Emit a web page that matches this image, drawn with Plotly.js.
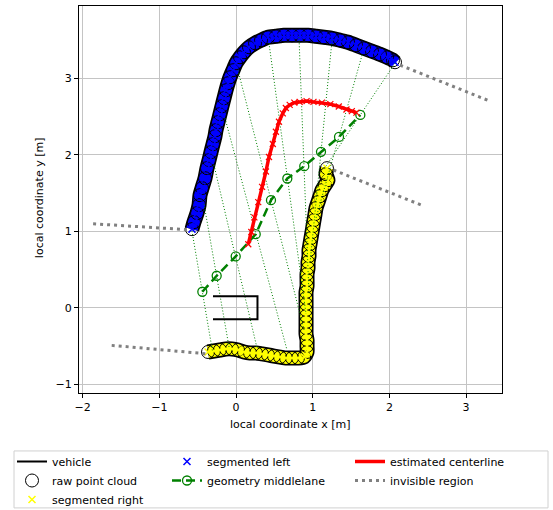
<!DOCTYPE html>
<html>
<head>
<meta charset="utf-8">
<script src="https://cdn.plot.ly/plotly-3.0.1.min.js"></script>
<style>body{margin:0;padding:0;background:#fff;} #plot{width:553px;height:510px;}</style>
</head>
<body>
<div id="plot"></div>
<script>
// ---- data ----
var vehicleX = [-0.30, 0.28, 0.28, -0.30];
var vehicleY = [0.15, 0.15, -0.15, -0.15];

var leftX = [-0.574,-0.548,-0.508,-0.482,-0.469,-0.443,-0.404,-0.378,-0.352,-0.326,-0.300,-0.274,-0.261,-0.235,-0.209,-0.183,-0.156,-0.130,-0.104,-0.078,-0.039,0.000,0.052,0.104,0.169,0.248,0.326,0.417,0.522,0.626,0.730,0.834,0.939,1.043,1.147,1.252,1.356,1.460,1.565,1.669,1.773,1.877,1.969,2.047,2.073];
var leftY = [1.027,1.119,1.236,1.341,1.471,1.563,1.693,1.824,1.928,2.033,2.137,2.242,2.320,2.425,2.529,2.633,2.738,2.842,2.934,3.012,3.104,3.195,3.273,3.338,3.404,3.456,3.495,3.534,3.547,3.560,3.560,3.560,3.560,3.547,3.534,3.521,3.495,3.469,3.430,3.390,3.351,3.312,3.273,3.234,3.208];

var rightX = [-0.365,-0.287,-0.209,-0.130,-0.052,0.026,0.104,0.183,0.261,0.339,0.417,0.495,0.574,0.652,0.730,0.808,0.887,0.926,0.926,0.926,0.913,0.913,0.913,0.913,0.913,0.913,0.913,0.913,0.926,0.926,0.926,0.939,0.939,0.952,0.952,0.965,0.978,0.991,1.004,1.017,1.030,1.043,1.069,1.095,1.121,1.160,1.199,1.173,1.186];
var rightY = [-0.578,-0.565,-0.552,-0.539,-0.539,-0.552,-0.578,-0.591,-0.591,-0.604,-0.617,-0.631,-0.644,-0.657,-0.657,-0.657,-0.644,-0.578,-0.500,-0.422,-0.343,-0.265,-0.187,-0.108,-0.030,0.048,0.127,0.205,0.284,0.362,0.440,0.519,0.597,0.675,0.753,0.832,0.910,0.988,1.067,1.145,1.223,1.302,1.380,1.458,1.537,1.602,1.667,1.745,1.824];

var midX = [-0.439,-0.252,-0.004,0.257,0.456,0.669,0.890,1.108,1.343,1.621];
var midY = [0.209,0.418,0.671,0.962,1.406,1.689,1.850,2.037,2.232,2.520];

var pairLX = [-0.574,-0.417,-0.287,-0.143,0.026,0.430,0.821,1.252,1.643,2.073];
var pairLY = [1.001,1.354,1.863,2.476,3.103,3.456,3.534,3.495,3.300,3.195];
var pairRX = [-0.304,-0.091,0.274,0.665,0.887,0.913,0.952,0.965,1.043,1.173];
var pairRY = [-0.583,-0.513,-0.526,-0.552,-0.290,-0.082,0.166,0.584,1.171,1.850];

var centerX = [0.16,0.20,0.24,0.29,0.34,0.39,0.43,0.48,0.52,0.56,0.61,0.65,0.70,0.76,0.83,0.92,1.01,1.12,1.23,1.34,1.44,1.51,1.57];
var centerY = [0.83,0.99,1.18,1.38,1.58,1.78,1.97,2.14,2.30,2.43,2.54,2.61,2.65,2.68,2.69,2.70,2.69,2.68,2.66,2.63,2.59,2.57,2.55];

var invisStartX = [-0.64,-0.40,2.14,1.27];
var invisStartY = [1.02,-0.60,3.17,1.80];
var invisEndX = [-1.90,-1.64,3.31,2.42];
var invisEndY = [1.10,-0.49,2.70,1.34];

var xTicks = [-2,-1,0,1,2,3];
var yTicks = [-1,0,1,2,3];
var xTitle = 'local coordinate x [m]';
var yTitle = 'local coordinate y [m]';

// ---- helpers building segment traces from the arrays ----
function segs(ax, ay, bx, by) {
  var x = [], y = [];
  for (var i = 0; i < ax.length; i++) { x.push(ax[i], bx[i], null); y.push(ay[i], by[i], null); }
  return {x: x, y: y};
}
var conn = segs(pairLX, pairLY, pairRX, pairRY);
var inv = segs(invisStartX, invisStartY, invisEndX, invisEndY);

var FONT = 'DejaVu Sans, Liberation Sans, sans-serif';

function band(x, y, color, w) {
  return {x: x, y: y, mode: 'lines', type: 'scatter', showlegend: false, hoverinfo: 'skip',
    line: {color: color, width: w, shape: 'spline', smoothing: 0.6}};
}

var traces = [
  // dense point-cloud bands (outline + fill) drawn from the boundary arrays
  band(leftX, leftY, '#000', 15),
  band(rightX, rightY, '#000', 15),
  band(leftX, leftY, '#0000ff', 12),
  band(rightX, rightY, '#ffff00', 12),
  {name: 'raw point cloud', x: leftX.concat(rightX), y: leftY.concat(rightY), mode: 'markers', type: 'scatter',
   marker: {symbol: 'circle-open', size: 13, color: '#000', line: {width: 1, color: '#000'}},
   legend: 'legend', legendrank: 2},
  {name: 'segmented left', x: leftX, y: leftY, mode: 'markers', type: 'scatter',
   marker: {symbol: 'x-thin', size: 7, color: '#0000ff', line: {width: 1.5, color: '#0000ff'}},
   legend: 'legend2', legendrank: 1},
  {name: 'segmented right', x: rightX, y: rightY, mode: 'markers', type: 'scatter',
   marker: {symbol: 'x-thin', size: 7, color: '#ffff00', line: {width: 1.5, color: '#ffff00'}},
   legend: 'legend', legendrank: 3},
  {name: 'connections', x: conn.x, y: conn.y, mode: 'lines', type: 'scatter', showlegend: false,
   line: {color: '#008000', width: 1, dash: '1px,2px'}},
  {name: 'geometry middlelane', x: midX, y: midY, mode: 'lines+markers', type: 'scatter',
   line: {color: '#008000', width: 2.5, dash: '9px,5px'},
   marker: {symbol: 'circle-open', size: 9, color: '#008000', line: {width: 1.3, color: '#008000'}},
   legend: 'legend2', legendrank: 2},
  {name: 'estimated centerline', x: centerX, y: centerY, mode: 'lines', type: 'scatter',
   line: {color: '#ff0000', width: 3.5}, legend: 'legend3', legendrank: 1},
  {name: 'centerline pts', x: centerX, y: centerY, mode: 'markers', type: 'scatter', showlegend: false,
   marker: {symbol: 'x-thin', size: 6, color: '#ff0000', line: {width: 1.2, color: '#ff0000'}}},
  {name: 'invisible region', x: inv.x, y: inv.y, mode: 'lines', type: 'scatter',
   line: {color: '#808080', width: 3, dash: '3px,4px'}, legend: 'legend3', legendrank: 2},
  {name: 'vehicle', x: vehicleX, y: vehicleY, mode: 'lines', type: 'scatter',
   line: {color: '#000', width: 2}, legend: 'legend', legendrank: 1}
];

var legBase = {xref: 'container', yref: 'container', xanchor: 'left', yanchor: 'top',
  orientation: 'v', bgcolor: 'rgba(0,0,0,0)', borderwidth: 0,
  font: {family: FONT, size: 11, color: '#000'}, itemsizing: 'trace', tracegroupgap: 0};
function leg(xpx) { var o = JSON.parse(JSON.stringify(legBase)); o.x = xpx / 553; o.y = 1 - 447 / 510; return o; }

var layout = {
  width: 553, height: 510,
  margin: {l: 79, r: 51, t: 6, b: 117, pad: 0, autoexpand: false},
  paper_bgcolor: '#fff', plot_bgcolor: '#fff',
  font: {family: FONT, size: 11, color: '#000'},
  showlegend: true,
  xaxis: {range: [-2.047, 3.468], tickvals: xTicks, ticks: 'outside', ticklen: 4, tickcolor: '#000',
    showline: true, mirror: true, linecolor: '#000', linewidth: 1, showgrid: true, gridcolor: '#c4c4c4', gridwidth: 1,
    zeroline: false, tickfont: {family: FONT, size: 11}},
  yaxis: {range: [-1.114, 3.943], tickvals: yTicks, ticks: 'outside', ticklen: 4, tickcolor: '#000',
    showline: true, mirror: true, linecolor: '#000', linewidth: 1, showgrid: true, gridcolor: '#c4c4c4', gridwidth: 1,
    zeroline: false, tickfont: {family: FONT, size: 11}},
  annotations: [
    {text: xTitle, xref: 'paper', yref: 'paper', x: (290 - 79) / 423, y: (393 - 425) / 387.3, showarrow: false,
     xanchor: 'center', yanchor: 'middle', font: {family: FONT, size: 11, color: '#000'}},
    {text: yTitle, xref: 'paper', yref: 'paper', x: (39 - 79) / 423, y: (393 - 198) / 387.3, showarrow: false, textangle: -90,
     xanchor: 'center', yanchor: 'middle', font: {family: FONT, size: 11, color: '#000'}}
  ],
  legend: leg(12), legend2: leg(167), legend3: leg(350),
  shapes: [{type: 'rect', xref: 'paper', yref: 'paper', x0: (14 - 79) / 423, x1: (548 - 79) / 423,
    y0: (393 - 508) / 387.3, y1: (393 - 451) / 387.3, line: {color: '#d0d0d0', width: 1}, fillcolor: 'rgba(0,0,0,0)', layer: 'above'}]
};

Plotly.newPlot('plot', traces, layout, {displayModeBar: false, staticPlot: true});
</script>
</body>
</html>
